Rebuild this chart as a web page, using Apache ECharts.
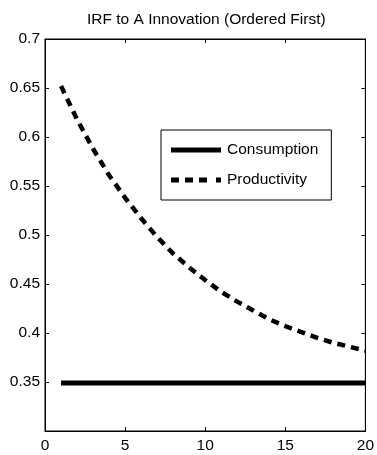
<!DOCTYPE html>
<html>
<head>
<meta charset="utf-8">
<script src="https://cdn.jsdelivr.net/npm/echarts@6/dist/echarts.min.js"></script>
<style>
  html, body { margin: 0; padding: 0; background: #fff; }
  #main { width: 377px; height: 455px; }
</style>
</head>
<body>
<div id="main"></div>
<script>
// periods of the impulse response
var periods = [1, 2, 3, 4, 5, 6, 7, 8, 9, 10, 11, 12, 13, 14, 15, 16, 17, 18, 19, 20];
var consumption = [0.349, 0.349, 0.349, 0.349, 0.349, 0.349, 0.349, 0.349, 0.349, 0.349,
    0.349, 0.349, 0.349, 0.349, 0.349, 0.349, 0.349, 0.349, 0.349, 0.349];
var productivity = [0.652, 0.618, 0.588, 0.561, 0.538, 0.517, 0.498, 0.481, 0.467, 0.454,
    0.442, 0.432, 0.423, 0.414, 0.407, 0.401, 0.395, 0.390, 0.386, 0.382];
var xTicks = [0, 5, 10, 15, 20];
var yTicks = [0.3, 0.35, 0.4, 0.45, 0.5, 0.55, 0.6, 0.65, 0.7];

var font = 'Liberation Sans, Arial, sans-serif';

function pairs(ys) {
    return periods.map(function (p, i) { return [p, ys[i]]; });
}

var myChart = echarts.init(document.getElementById('main'));

var axisCommon = {
    type: 'value',
    axisLine: { show: true, onZero: false, lineStyle: { color: '#000', width: 1 } },
    axisTick: { show: true, inside: true, length: 4, lineStyle: { color: '#000' } },
    splitLine: { show: false }
};

myChart.setOption({
    animation: false,
    title: {
        text: 'IRF to A Innovation (Ordered First)',
        left: 82,
        top: 7,
        textStyle: { fontFamily: font, fontSize: 15.5, fontWeight: 'normal', color: '#000' }
    },
    legend: {
        orient: 'vertical',
        left: 161,
        top: 130,
        padding: [12, 13, 12, 10],
        itemGap: 14,
        itemWidth: 50,
        itemHeight: 5,
        backgroundColor: '#fff',
        borderColor: '#000',
        borderWidth: 1,
        borderRadius: 0,
        textStyle: { fontFamily: font, fontSize: 15.5, color: '#000', padding: [0, 0, 0, 1] },
        data: [
            { name: 'Consumption', icon: 'rect' },
            { name: 'Productivity', icon: 'path://M0,0H8V5H0Z M14,0H22V5H14Z M28,0H36V5H28Z M45,0H50V5H45Z' }
        ]
    },
    grid: {
        left: 45, right: 9, top: 39, bottom: 24,
        show: true, borderColor: '#000', borderWidth: 1, backgroundColor: '#fff'
    },
    xAxis: [
        Object.assign({}, axisCommon, {
            position: 'bottom',
            min: xTicks[0], max: xTicks[xTicks.length - 1], interval: 5,
            axisLabel: { margin: 7, fontFamily: font, fontSize: 15.5, color: '#000' }
        }),
        Object.assign({}, axisCommon, {
            position: 'top',
            min: xTicks[0], max: xTicks[xTicks.length - 1], interval: 5,
            axisLabel: { show: false }
        })
    ],
    yAxis: [
        Object.assign({}, axisCommon, {
            position: 'left',
            min: yTicks[0], max: yTicks[yTicks.length - 1], interval: 0.05,
            axisLabel: {
                margin: 5, fontFamily: font, fontSize: 15.5, color: '#000',
                formatter: function (v) {
                    return v <= yTicks[0] + 1e-6 ? '' : String(+v.toFixed(2));
                }
            }
        }),
        Object.assign({}, axisCommon, {
            position: 'right',
            min: yTicks[0], max: yTicks[yTicks.length - 1], interval: 0.05,
            axisLabel: { show: false }
        })
    ],
    series: [
        {
            name: 'Consumption',
            type: 'line',
            symbol: 'none',
            xAxisIndex: 0, yAxisIndex: 0,
            data: pairs(consumption),
            itemStyle: { color: '#000' },
            lineStyle: { color: '#000', width: 5, cap: 'butt' }
        },
        {
            name: 'Productivity',
            type: 'line',
            symbol: 'none',
            smooth: false,
            xAxisIndex: 0, yAxisIndex: 0,
            data: pairs(productivity),
            itemStyle: { color: '#000' },
            lineStyle: { color: '#000', width: 4.5, type: [8, 6], cap: 'butt' }
        }
    ]
});
</script>
</body>
</html>
